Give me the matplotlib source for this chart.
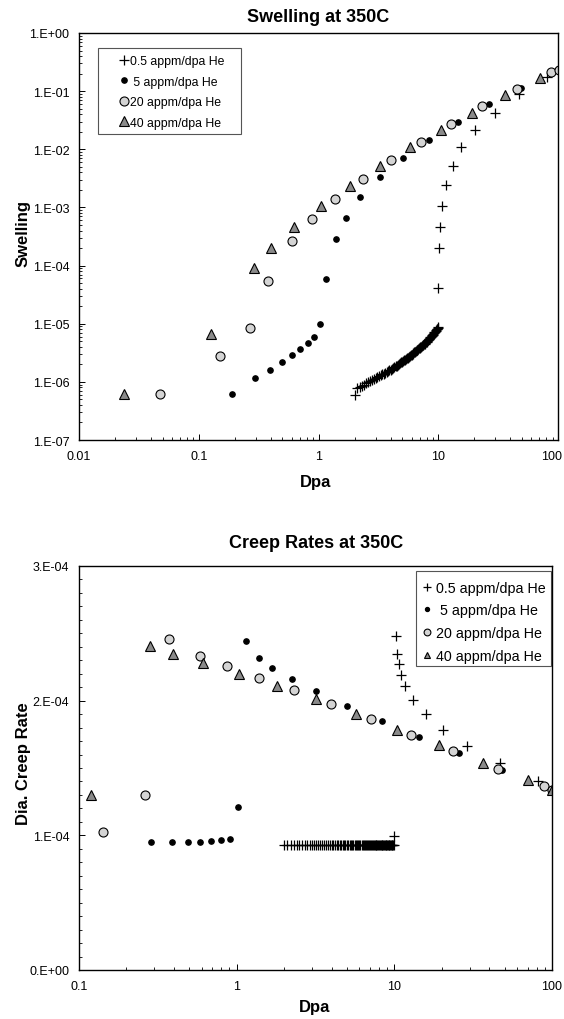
import matplotlib
matplotlib.use("Agg")
import matplotlib.pyplot as plt
from matplotlib.ticker import FuncFormatter, LogLocator, MultipleLocator
from matplotlib.patches import Rectangle
from matplotlib.transforms import ScaledTranslation
import numpy as np

plt.rcParams['font.family'] = ['Liberation Sans', 'DejaVu Sans']

labels = ["0.5 appm/dpa He", " 5 appm/dpa He", "20 appm/dpa He", "40 appm/dpa He"]

# ---------------- Swelling data ----------------
sw_p05_x = [2.0, 2.1, 2.2, 2.3, 2.4, 2.5, 2.6, 2.7, 2.8, 2.9,
            3.0, 3.1, 3.2, 3.3, 3.4, 3.5, 3.6, 3.7, 3.8, 3.9,
            4.0, 4.1, 4.2, 4.3, 4.4, 4.5, 4.6, 4.7, 4.8, 4.9,
            5.0, 5.1, 5.2, 5.3, 5.4, 5.5, 5.6, 5.7, 5.8, 5.9,
            6.0, 6.1, 6.2, 6.3, 6.4, 6.5, 6.6, 6.7, 6.8, 6.9,
            7.0, 7.1, 7.2, 7.3, 7.4, 7.5, 7.6, 7.7, 7.8, 7.9,
            8.0, 8.1, 8.2, 8.3, 8.4, 8.5, 8.6, 8.7, 8.8, 8.9,
            9.0, 9.1, 9.2, 9.3, 9.4, 9.5, 9.6, 9.7, 9.8, 9.9,
            10.0,
            9.9, 10.07, 10.26, 10.7, 11.6, 13.2, 15.6, 20.1, 29.6, 46.9, 80.9]
sw_p05_y = [6.0e-7, 7.8e-7, 8.2e-7, 8.6e-7, 9.0e-7, 9.5e-7, 9.9e-7, 1.03e-6, 1.07e-6, 1.12e-6,
            1.16e-6, 1.21e-6, 1.25e-6, 1.30e-6, 1.34e-6, 1.39e-6, 1.43e-6, 1.48e-6, 1.53e-6, 1.57e-6,
            1.62e-6, 1.67e-6, 1.73e-6, 1.79e-6, 1.85e-6, 1.91e-6, 1.97e-6, 2.03e-6, 2.09e-6, 2.16e-6,
            2.22e-6, 2.28e-6, 2.35e-6, 2.41e-6, 2.48e-6, 2.55e-6, 2.61e-6, 2.69e-6, 2.78e-6, 2.86e-6,
            2.94e-6, 3.03e-6, 3.12e-6, 3.20e-6, 3.29e-6, 3.38e-6, 3.47e-6, 3.57e-6, 3.66e-6, 3.75e-6,
            3.85e-6, 3.95e-6, 4.04e-6, 4.14e-6, 4.24e-6, 4.34e-6, 4.44e-6, 4.54e-6, 4.67e-6, 4.80e-6,
            4.94e-6, 5.08e-6, 5.23e-6, 5.38e-6, 5.53e-6, 5.68e-6, 5.83e-6, 5.99e-6, 6.15e-6, 6.31e-6,
            6.47e-6, 6.64e-6, 6.87e-6, 7.09e-6, 7.32e-6, 7.56e-6, 7.80e-6, 8.05e-6, 8.26e-6, 8.47e-6,
            8.7e-6,
            4.1e-5, 2.04e-4, 4.67e-4, 1.07e-3, 2.41e-3, 5.1e-3, 0.0108, 0.0215, 0.0425, 0.0877, 0.174]

sw_p5_x = [0.19, 0.296, 0.394, 0.494, 0.598, 0.707, 0.815, 0.92, 1.03, 1.15,
           1.40, 1.69, 2.23, 3.27, 5.03, 8.3, 14.5, 26.3, 48.7]
sw_p5_y = [6.1e-7, 1.17e-6, 1.63e-6, 2.2e-6, 2.86e-6, 3.68e-6, 4.72e-6, 5.99e-6, 9.7e-6, 5.99e-5,
           2.9e-4, 6.65e-4, 1.52e-3, 3.35e-3, 7.2e-3, 0.0146, 0.0294, 0.059, 0.114]

sw_p20_x = [0.0475, 0.151, 0.268, 0.377, 0.599, 0.891, 1.38, 2.35, 4.07, 7.12,
            12.9, 23.4, 45.4, 87.9, 101]
sw_p20_y = [6.1e-7, 2.79e-6, 8.5e-6, 5.46e-5, 2.65e-4, 6.2e-4, 1.39e-3, 3.06e-3, 6.5e-3, 0.0134,
            0.0275, 0.0553, 0.107, 0.212, 0.235]

sw_p40_x = [0.0239, 0.127, 0.292, 0.402, 0.63, 1.05, 1.82, 3.26, 5.8, 10.6, 19.1, 36.3, 71.2]
sw_p40_y = [6.1e-7, 6.65e-6, 9.2e-5, 1.98e-4, 4.6e-4, 1.07e-3, 2.35e-3, 5.2e-3, 0.0108, 0.0212,
            0.0425, 0.0843, 0.165]

# ---------------- Creep data ----------------
cr_p05_x = [2.0, 2.1, 2.2, 2.3, 2.4, 2.5, 2.6, 2.7, 2.8, 2.9,
            3.0, 3.1, 3.2, 3.3, 3.4, 3.5, 3.6, 3.7, 3.8, 3.9,
            4.0, 4.1, 4.2, 4.3, 4.4, 4.5, 4.6, 4.7, 4.8, 4.9,
            5.0, 5.1, 5.2, 5.3, 5.4, 5.5, 5.6, 5.7, 5.8, 5.9,
            6.0, 6.1, 6.2, 6.3, 6.4, 6.5, 6.6, 6.7, 6.8, 6.9,
            7.0, 7.1, 7.2, 7.3, 7.4, 7.5, 7.6, 7.7, 7.8, 7.9,
            8.0, 8.1, 8.2, 8.3, 8.4, 8.5, 8.6, 8.7, 8.8, 8.9,
            9.0, 9.1, 9.2, 9.3, 9.4, 9.5, 9.6, 9.7, 9.8, 9.9,
            10.0,
            10.3, 10.34, 10.66, 11.03, 11.75, 13.15, 15.85, 20.4, 29.0, 46.6, 81.0]
cr_p05_y = [0.93e-4, 0.93e-4, 0.93e-4, 0.93e-4, 0.93e-4, 0.93e-4, 0.93e-4, 0.93e-4, 0.93e-4, 0.93e-4,
            0.93e-4, 0.93e-4, 0.93e-4, 0.93e-4, 0.93e-4, 0.93e-4, 0.93e-4, 0.93e-4, 0.93e-4, 0.93e-4,
            0.93e-4, 0.93e-4, 0.93e-4, 0.93e-4, 0.93e-4, 0.93e-4, 0.93e-4, 0.93e-4, 0.93e-4, 0.93e-4,
            0.93e-4, 0.93e-4, 0.93e-4, 0.93e-4, 0.93e-4, 0.93e-4, 0.93e-4, 0.93e-4, 0.93e-4, 0.93e-4,
            0.93e-4, 0.93e-4, 0.93e-4, 0.93e-4, 0.93e-4, 0.93e-4, 0.93e-4, 0.93e-4, 0.93e-4, 0.93e-4,
            0.93e-4, 0.93e-4, 0.93e-4, 0.93e-4, 0.93e-4, 0.93e-4, 0.93e-4, 0.93e-4, 0.93e-4, 0.93e-4,
            0.93e-4, 0.93e-4, 0.93e-4, 0.93e-4, 0.93e-4, 0.93e-4, 0.93e-4, 0.93e-4, 0.93e-4, 0.93e-4,
            0.93e-4, 0.93e-4, 0.93e-4, 0.93e-4, 0.93e-4, 0.93e-4, 0.93e-4, 0.93e-4, 0.93e-4, 0.93e-4,
            0.995e-4,
            2.478e-4, 2.349e-4, 2.275e-4, 2.193e-4, 2.106e-4, 2.007e-4, 1.903e-4, 1.785e-4, 1.661e-4,
            1.537e-4, 1.401e-4]

cr_p5_x = [0.287, 0.388, 0.488, 0.587, 0.683, 0.791, 0.902, 1.02, 1.152, 1.38,
           1.68, 2.23, 3.2, 5.02, 8.35, 14.4, 25.9, 48.5, 99.0]
cr_p5_y = [0.953e-4, 0.953e-4, 0.953e-4, 0.953e-4, 0.960e-4, 0.965e-4, 0.975e-4, 1.210e-4, 2.441e-4,
           2.317e-4, 2.245e-4, 2.163e-4, 2.072e-4, 1.963e-4, 1.851e-4, 1.733e-4, 1.609e-4, 1.485e-4,
           1.347e-4]

cr_p20_x = [0.142, 0.262, 0.371, 0.587, 0.864, 1.38, 2.32, 3.99, 7.13, 12.8, 23.6, 45.3, 88.5, 100]
cr_p20_y = [1.025e-4, 1.297e-4, 2.455e-4, 2.332e-4, 2.255e-4, 2.168e-4, 2.077e-4, 1.978e-4, 1.866e-4,
            1.748e-4, 1.624e-4, 1.493e-4, 1.364e-4, 1.34e-4]

cr_p40_x = [0.120, 0.282, 0.397, 0.613, 1.035, 1.81, 3.19, 5.73, 10.4, 19.2, 36.4, 70.3, 100]
cr_p40_y = [1.297e-4, 2.406e-4, 2.349e-4, 2.277e-4, 2.198e-4, 2.109e-4, 2.01e-4, 1.901e-4, 1.785e-4,
            1.671e-4, 1.537e-4, 1.408e-4, 1.339e-4]

LIGHT = '#d4d4d4'
DARK = '#8a8a8a'

fig = plt.figure(figsize=(5.64, 10.20), dpi=100)


def style_series(ax, xs, ys):
    ax.plot(xs[0], ys[0], linestyle='none', marker='+', color='black',
            markersize=7.5, markeredgewidth=0.9, label=labels[0])
    ax.plot(xs[1], ys[1], linestyle='none', marker='o', color='black',
            markersize=3.8, label=labels[1])
    ax.plot(xs[2], ys[2], linestyle='none', marker='o', markerfacecolor=LIGHT,
            markeredgecolor='black', markeredgewidth=0.8, markersize=6.5, label=labels[2])
    ax.plot(xs[3], ys[3], linestyle='none', marker='^', markerfacecolor=DARK,
            markeredgecolor='black', markeredgewidth=0.8, markersize=6.5, label=labels[3])


def sci_fmt(v, pos):
    if v == 0:
        return "0.E+00"
    e = int(np.floor(np.log10(abs(v)) + 1e-9))
    m = v / 10 ** e
    return "%d.E%+03d" % (int(round(m)), e)


def x_fmt(v, pos):
    return "%g" % v


def boxed_legend(ax, rect, anchor, fontsize, labelspacing, handlelength,
                 handletextpad, markerscale):
    leg = ax.legend(loc='upper left', bbox_to_anchor=anchor, fontsize=fontsize,
                    frameon=False, handlelength=handlelength,
                    handletextpad=handletextpad, labelspacing=labelspacing,
                    borderpad=0, borderaxespad=0, numpoints=1, markerscale=markerscale)
    box = Rectangle((rect[0], rect[1]), rect[2], rect[3], transform=ax.transAxes,
                    facecolor='white', edgecolor='#555555', linewidth=0.8, zorder=4)
    ax.add_patch(box)
    leg.set_zorder(5)
    return leg


# ---------------- Swelling axes ----------------
ax1 = fig.add_axes([79 / 564, 1 - 441 / 1020, 479 / 564, 407 / 1020])
style_series(ax1, [sw_p05_x, sw_p5_x, sw_p20_x, sw_p40_x],
             [sw_p05_y, sw_p5_y, sw_p20_y, sw_p40_y])
ax1.set_xscale('log')
ax1.set_yscale('log')
ax1.set_xlim(0.01, 100)
ax1.set_ylim(1e-7, 1)
ax1.yaxis.set_major_locator(LogLocator(base=10, numticks=20))
ax1.yaxis.set_minor_locator(LogLocator(base=10, subs=np.arange(2, 10), numticks=20))
ax1.yaxis.set_major_formatter(FuncFormatter(sci_fmt))
ax1.xaxis.set_major_formatter(FuncFormatter(x_fmt))
boxed_legend(ax1, (0.0397, 0.752, 0.2985, 0.2113), (0.082, 0.946), 8.8,
             0.70, 0.9, 0.05, 1.0)

# ---------------- Creep axes ----------------
ax2 = fig.add_axes([79 / 564, 1 - 971 / 1020, 473 / 564, 404 / 1020])
style_series(ax2, [cr_p05_x, cr_p5_x, cr_p20_x, cr_p40_x],
             [cr_p05_y, cr_p5_y, cr_p20_y, cr_p40_y])
ax2.set_xscale('log')
ax2.set_xlim(0.1, 100)
ax2.set_ylim(0, 3e-4)
ax2.yaxis.set_major_locator(MultipleLocator(1e-4))
ax2.yaxis.set_minor_locator(MultipleLocator(1e-5))
ax2.yaxis.set_major_formatter(FuncFormatter(sci_fmt))
ax2.xaxis.set_major_formatter(FuncFormatter(x_fmt))
boxed_legend(ax2, (0.7125, 0.7525, 0.2854, 0.2351), (0.724, 0.964), 10.3,
             0.62, 0.8, 0.25, 0.75)

for ax in (ax1, ax2):
    ax.xaxis.set_minor_locator(LogLocator(base=10, subs=np.arange(2, 10), numticks=20))
    ax.tick_params(which='both', direction='in', top=False, right=False,
                   labelsize=9, colors='black')
    ax.tick_params(which='major', length=4, width=0.7, pad=7)
    ax.tick_params(which='minor', length=2.5, width=0.6)
    for s in ax.spines.values():
        s.set_linewidth(1.0)
        s.set_color('black')
        s.set_zorder(6)
    ax.xaxis.set_minor_formatter(FuncFormatter(lambda v, p: ""))

# Titles and axis labels
fig.text(318 / 564, 1 - 17 / 1020, "Swelling at 350C", ha='center', va='center',
         fontsize=13, fontweight='bold')
fig.text(316 / 564, 1 - 543 / 1020, "Creep Rates at 350C", ha='center', va='center',
         fontsize=13, fontweight='bold')
fig.text(316 / 564, 1 - 483 / 1020, "Dpa", ha='center', va='center',
         fontsize=12, fontweight='bold')
fig.text(315 / 564, 1 - 1008 / 1020, "Dpa", ha='center', va='center',
         fontsize=12, fontweight='bold')
fig.text(23 / 564, 1 - 234 / 1020, "Swelling", ha='center', va='center',
         rotation=90, fontsize=12, fontweight='bold')
fig.text(24 / 564, 1 - 764 / 1020, "Dia. Creep Rate", ha='center', va='center',
         rotation=90, fontsize=12, fontweight='bold')

# nudge the rightmost "100" label of the top chart inside the canvas
fig.canvas.draw()
for tick in ax1.xaxis.get_major_ticks():
    if tick.label1.get_text() == '100':
        tick.label1.set_transform(tick.label1.get_transform() +
                                  ScaledTranslation(-0.06, 0, fig.dpi_scale_trans))

fig.savefig("out.png", dpi=100, facecolor='white')
